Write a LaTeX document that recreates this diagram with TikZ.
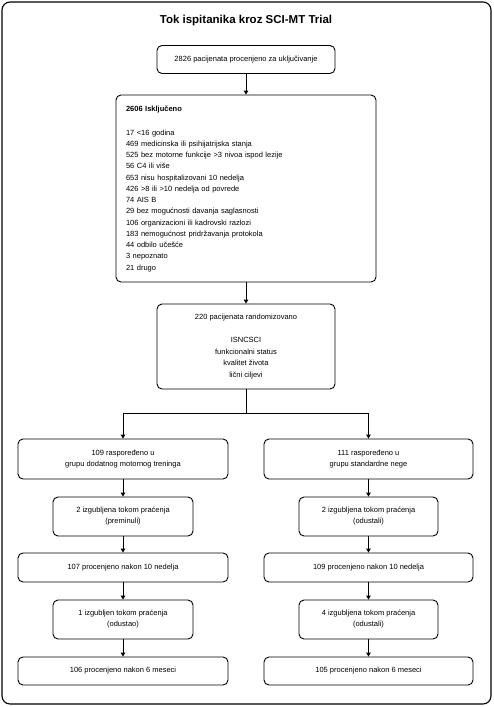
\documentclass[tikz,border=0pt]{standalone}
\usepackage{fontspec}
\setmainfont{Liberation Sans}
\usetikzlibrary{arrows.meta}
\begin{document}
\begin{tikzpicture}[x=1pt,y=-1pt,
  box/.style={draw=black, line width=0.9pt, rounded corners=5pt, inner sep=0pt, align=center,
    font=\fontsize{7.5}{11}\selectfont},
  arr/.style={draw=black, line width=0.9pt, -{Triangle[length=4pt,width=4.5pt]}},
  ln/.style={draw=black, line width=0.9pt}]
\useasboundingbox (0,0) rectangle (493,707);
\draw[line width=1.1pt, rounded corners=8pt] (2,2) rectangle (491,704);
\node (title) at (246,21) {\fontsize{11.5}{13}\selectfont\bfseries Tok ispitanika kroz SCI-MT Trial};

\node[box, minimum width=178pt, minimum height=28pt] (b1) at (246,59.5) {2826 pacijenata procenjeno za uključivanje};

\node[box, minimum width=260pt, minimum height=187pt, text width=240pt, align=left,
  font=\fontsize{7.5}{11.25}\selectfont] (b2) at (246,188.5) {%
  \textbf{2606 Isključeno}\\[12.75pt]
  17 <16 godina\\
  469 medicinska ili psihijatrijska stanja\\
  525 bez motorne funkcije >3 nivoa ispod lezije\\
  56 C4 ili više\\
  653 nisu hospitalizovani 10 nedelja\\
  426 >8 ili >10 nedelja od povrede\\
  74 AIS B\\
  29 bez mogućnosti davanja saglasnosti\\
  106 organizacioni ili kadrovski razlozi\\
  183 nemogućnost pridržavanja protokola\\
  44 odbilo učešće\\
  3 nepoznato\\
  21 drugo};

\node[box, minimum width=178pt, minimum height=85pt, font=\fontsize{7.5}{11.6}\selectfont] (b3) at (246,346.5) {%
  220 pacijenata randomizovano\\[11.4pt]
  ISNCSCI\\
  funkcionalni status\\
  kvalitet života\\
  lični ciljevi};

\node[box, minimum width=210pt, minimum height=40pt] (l1) at (123,459) {109 raspoređeno u\\grupu dodatnog motornog treninga};
\node[box, minimum width=209pt, minimum height=40pt] (r1) at (368.5,459) {111 raspoređeno u\\grupu standardne nege};

\node[box, minimum width=140pt, minimum height=39pt] (l2) at (123,516.5) {2 izgubljena tokom praćenja\\(preminuli)};
\node[box, minimum width=139pt, minimum height=39pt] (r2) at (368.5,516.5) {2 izgubljena tokom praćenja\\(odustali)};

\node[box, minimum width=210pt, minimum height=29pt] (l3) at (123,567.5) {107 procenjeno nakon 10 nedelja};
\node[box, minimum width=209pt, minimum height=29pt] (r3) at (368.5,567.5) {109 procenjeno nakon 10 nedelja};

\node[box, minimum width=140pt, minimum height=39pt] (l4) at (123,619.5) {1 izgubljen tokom praćenja\\(odustao)};
\node[box, minimum width=139pt, minimum height=39pt] (r4) at (368.5,619.5) {4 izgubljena tokom praćenja\\(odustali)};

\node[box, minimum width=210pt, minimum height=28pt] (l5) at (123,671) {106 procenjeno nakon 6 meseci};
\node[box, minimum width=209pt, minimum height=28pt] (r5) at (368.5,671) {105 procenjeno nakon 6 meseci};

\coordinate (split) at (246,413);
\draw[arr] (b1) -- (b2);
\draw[arr] (b2) -- (b3);
\draw[ln] (b3) -- (split);
\draw[arr] (split) -| (l1);
\draw[arr] (split) -| (r1);
\draw[arr] (l1) -- (l2);
\draw[arr] (r1) -- (r2);
\draw[arr] (l2) -- (l3);
\draw[arr] (r2) -- (r3);
\draw[arr] (l3) -- (l4);
\draw[arr] (r3) -- (r4);
\draw[arr] (l4) -- (l5);
\draw[arr] (r4) -- (r5);
\end{tikzpicture}
\end{document}
